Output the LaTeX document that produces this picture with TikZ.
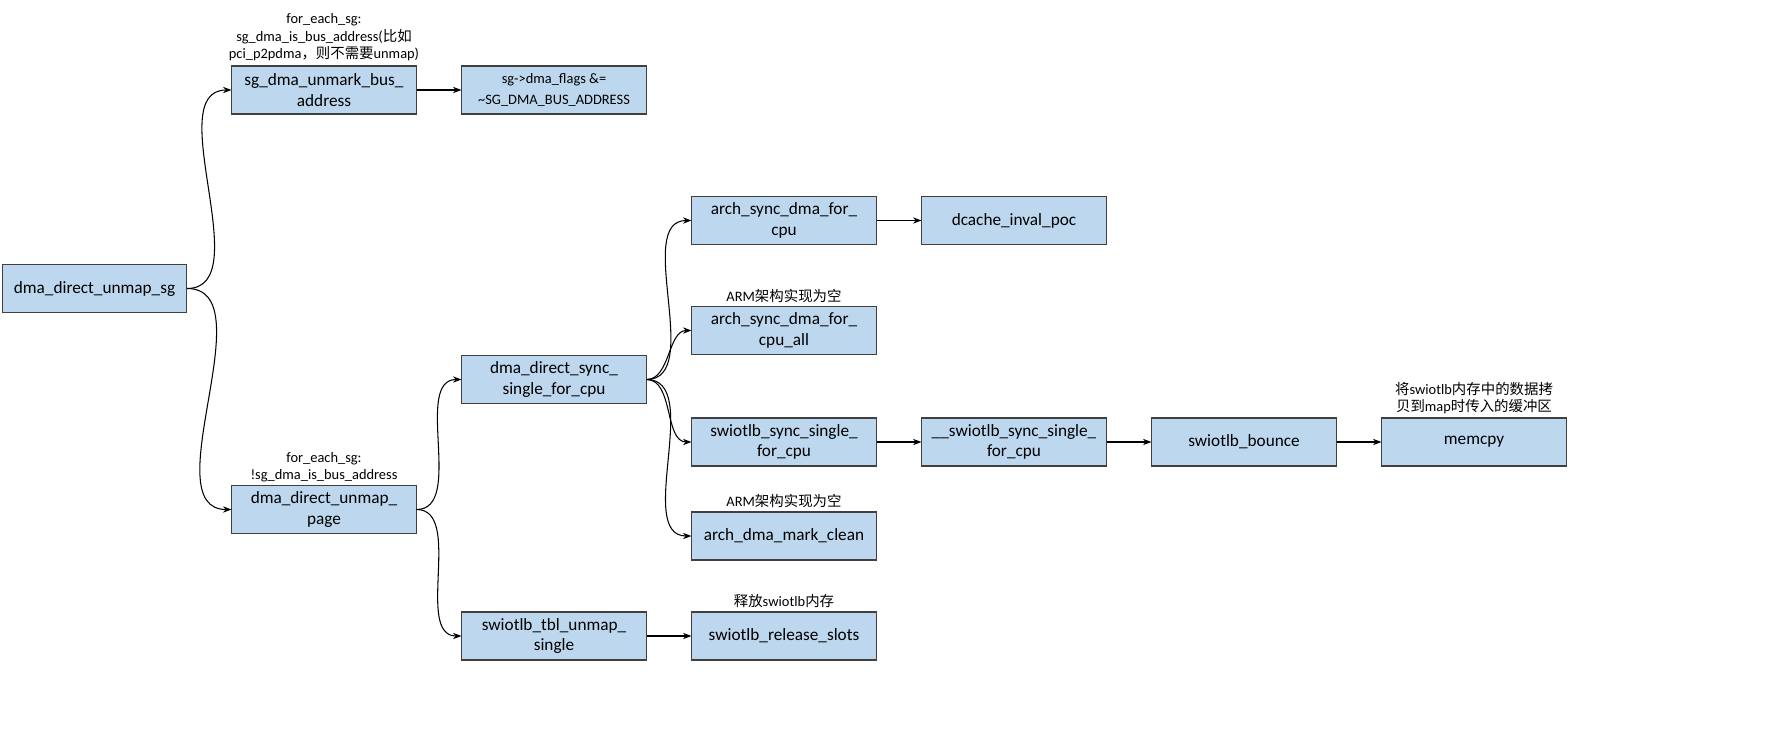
\documentclass[tikz,border=0pt]{standalone}
\usepackage{fontspec}
\setmainfont{Carlito}
\newfontfamily\cjk{Noto Sans CJK SC}
\usetikzlibrary{arrows.meta}
\definecolor{boxfill}{HTML}{BDD7EE}
\definecolor{boxline}{HTML}{404040}
\begin{document}
\begin{tikzpicture}[x=0.01cm,y=-0.01cm,
  box/.style={draw=boxline,fill=boxfill,line width=0.3pt,minimum width=1.84cm,minimum height=0.48cm,align=center,inner sep=0.3pt,font=\fontsize{4.9}{5.8}\selectfont},
  lbl/.style={align=center,font=\fontsize{4.1}{5}\selectfont,inner sep=0.3pt},
  arr/.style={-{Stealth[length=2.4pt,width=1.8pt]},black,line width=0.3pt},
  cur/.style={arr,out=0,in=180,looseness=0.9}]
\useasboundingbox (0,0) rectangle (1768,751);
\node[box] (sg) at (94.5,288.5) {dma\_direct\_unmap\_sg};
\node[box] (umb) at (324,90) {sg\_dma\_unmark\_bus\_\\address};
\node[box] (flg) at (554,90) {\fontsize{4.1}{5}\selectfont sg->dma\_flags \&=\\\fontsize{4.1}{5}\selectfont \textasciitilde SG\_DMA\_BUS\_ADDRESS};
\node[box] (up) at (324,509.5) {dma\_direct\_unmap\_\\page};
\node[box] (sync) at (554,379.5) {dma\_direct\_sync\_\\single\_for\_cpu};
\node[box] (tbl) at (554,636) {swiotlb\_tbl\_unmap\_\\single};
\node[box] (asc) at (784,220.5) {arch\_sync\_dma\_for\_\\cpu};
\node[box] (dci) at (1014,220.5) {dcache\_inval\_poc};
\node[box] (asa) at (784,330.5) {arch\_sync\_dma\_for\_\\cpu\_all};
\node[box] (ssc) at (784,442) {swiotlb\_sync\_single\_\\for\_cpu};
\node[box] (ussc) at (1014,442) {\_\_swiotlb\_sync\_single\_\\for\_cpu};
\node[box] (bnc) at (1244,442) {swiotlb\_bounce};
\node[box] (mcp) at (1474,442) {memcpy};
\node[box] (amc) at (784,536) {arch\_dma\_mark\_clean};
\node[box] (rel) at (784,636) {swiotlb\_release\_slots};

\node[lbl,anchor=south] (l1) at (324,63) {for\_each\_sg:\\sg\_dma\_is\_bus\_address({\cjk 比如}\\pci\_p2pdma{\cjk ，则不需要}unmap)};
\node[lbl,anchor=south] (l2) at (324,484) {for\_each\_sg:\\!sg\_dma\_is\_bus\_address};
\node[lbl,anchor=south] (l3) at (784,304) {ARM{\cjk 架构实现为空}};
\node[lbl,anchor=south] (l4) at (784,509) {ARM{\cjk 架构实现为空}};
\node[lbl,anchor=south] (l5) at (784,609) {{\cjk 释放}swiotlb{\cjk 内存}};
\node[lbl,anchor=south] (l6) at (1474,416) {{\cjk 将}swiotlb{\cjk 内存中的数据拷}\\{\cjk 贝到}map{\cjk 时传入的缓冲区}};

\draw[cur] (sg.east) to (umb.west);
\draw[cur] (sg.east) to (up.west);
\draw[arr] (umb) -- (flg);
\draw[cur] (up.east) to (sync.west);
\draw[cur] (up.east) to (tbl.west);
\draw[cur] (sync.east) to (asc.west);
\draw[cur] (sync.east) to (asa.west);
\draw[cur] (sync.east) to (ssc.west);
\draw[cur] (sync.east) to (amc.west);
\draw[arr] (asc) -- (dci);
\draw[arr] (ssc) -- (ussc);
\draw[arr] (ussc) -- (bnc);
\draw[arr] (bnc) -- (mcp);
\draw[arr] (tbl) -- (rel);
\end{tikzpicture}
\end{document}
